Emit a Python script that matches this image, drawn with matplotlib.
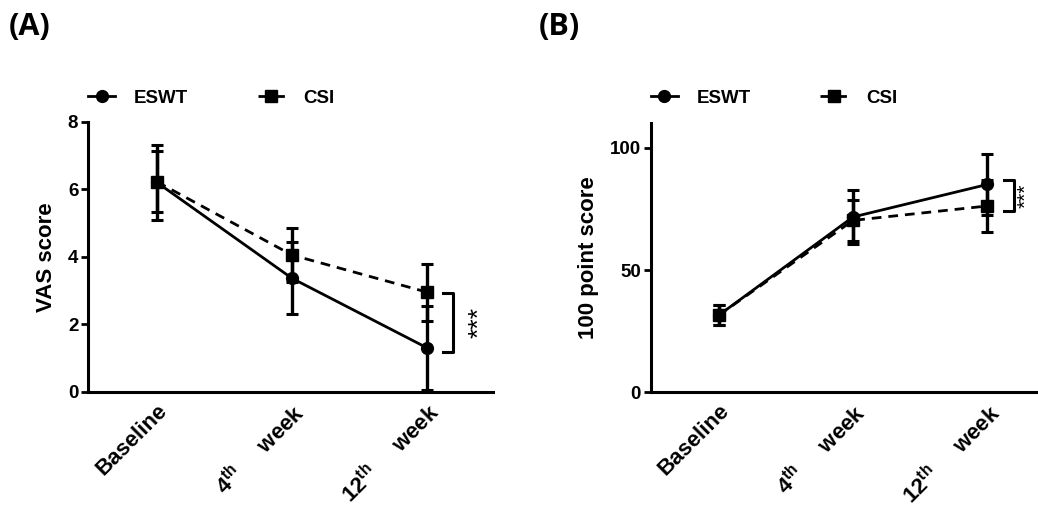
import matplotlib
matplotlib.use('Agg')
import matplotlib.pyplot as plt
import numpy as np

plt.rcParams['font.family'] = 'Liberation Sans'
plt.rcParams['font.weight'] = 'bold'
plt.rcParams['mathtext.fontset'] = 'custom'
plt.rcParams['mathtext.rm'] = 'Liberation Sans:bold'
plt.rcParams['mathtext.it'] = 'Liberation Sans:bold'
plt.rcParams['mathtext.bf'] = 'Liberation Sans:bold'

# Data
timepoints = ['Baseline', r'4$^{\mathrm{th}}$     week', r'12$^{\mathrm{th}}$     week']

vas_eswt = [6.2, 3.36, 1.3]
vas_eswt_sd = [1.1, 1.07, 1.25]
vas_csi = [6.22, 4.05, 2.95]
vas_csi_sd = [0.9, 0.8, 0.84]

score_eswt = [31.5, 71.7, 85.0]
score_eswt_sd = [4.0, 11.0, 12.3]
score_csi = [31.5, 70.3, 76.2]
score_csi_sd = [4.0, 8.5, 10.5]

x = np.arange(len(timepoints))

fig = plt.figure(figsize=(10.38, 5.07), dpi=100)
axA = fig.add_axes([0.0848, 0.2274, 0.3902, 0.5325])
axB = fig.add_axes([0.627, 0.2262, 0.389, 0.5306])


def draw_panel(ax, eswt, eswt_sd, csi, csi_sd, ylabel, ylim, yticks, xlim):
    l1 = ax.errorbar(x, eswt, yerr=eswt_sd, color='black', lw=2, marker='o', ms=8.5,
                     capsize=4.5, capthick=2.2, elinewidth=2.4, ls='-', label='ESWT')
    l2 = ax.errorbar(x, csi, yerr=csi_sd, color='black', lw=2, marker='s', ms=8.5,
                     capsize=4.5, capthick=2.2, elinewidth=2.4, ls=(0, (3.5, 2.5)), label='CSI')
    ax.set_ylim(*ylim)
    ax.set_xlim(*xlim)
    ax.set_yticks(yticks)
    ax.set_xticks(x)
    ax.set_xticklabels(timepoints, rotation=45, ha='right', rotation_mode='anchor',
                       fontsize=16, fontweight='bold')
    ax.set_ylabel(ylabel, fontsize=16, fontweight='bold', labelpad=8)
    for s in ['top', 'right']:
        ax.spines[s].set_visible(False)
    for s in ['left', 'bottom']:
        ax.spines[s].set_linewidth(2.2)
    ax.tick_params(axis='y', direction='out', length=5, width=2, labelsize=13.5, pad=2)
    ax.tick_params(axis='x', length=0, pad=6)
    for t in ax.get_yticklabels():
        t.set_fontweight('bold')
    return l1, l2


l1, l2 = draw_panel(axA, vas_eswt, vas_eswt_sd, vas_csi, vas_csi_sd, 'VAS score',
                    (0, 8), [0, 2, 4, 6, 8], (-0.511, 2.489))
axA.legend([l1[0], l2[0]], ['ESWT', 'CSI'], loc='center left', bbox_to_anchor=(0.0, 1.088),
           ncol=2, frameon=False, numpoints=1, handlelength=1.45, handletextpad=1.0,
           columnspacing=3.7, borderpad=0, borderaxespad=0,
           prop=dict(family='Liberation Sans', weight='bold', size=13.5))

m1, m2 = draw_panel(axB, score_eswt, score_eswt_sd, score_csi, score_csi_sd, '100 point score',
                    (0, 110), [0, 50, 100], (-0.505, 2.5))
axB.legend([m1[0], m2[0]], ['ESWT', 'CSI'], loc='center left', bbox_to_anchor=(0.0, 1.094),
           ncol=2, frameon=False, numpoints=1, handlelength=1.45, handletextpad=1.0,
           columnspacing=3.7, borderpad=0, borderaxespad=0,
           prop=dict(family='Liberation Sans', weight='bold', size=13.5))

# significance brackets
axA.plot([2.119, 2.193, 2.193, 2.119], [2.93, 2.93, 1.19, 1.19], color='black', lw=2.2,
         clip_on=False)
axA.text(2.39, 2.06, '***', rotation=90, ha='center', va='center', fontsize=19,
         fontweight='normal', clip_on=False)
axB.plot([2.126, 2.2, 2.2, 2.126], [86.9, 86.9, 74.1, 74.1], color='black', lw=2.2,
         clip_on=False)
axB.text(2.214, 80.5, '***', rotation=90, ha='left', va='center', fontsize=15,
         fontweight='normal', clip_on=False)

fig.text(0.008, 0.947, '(A)', fontsize=22, fontweight='bold', family='Open Sans',
         ha='left', va='center')
fig.text(0.519, 0.947, '(B)', fontsize=22, fontweight='bold', family='Open Sans',
         ha='left', va='center')

fig.savefig('out.png', dpi=100)
